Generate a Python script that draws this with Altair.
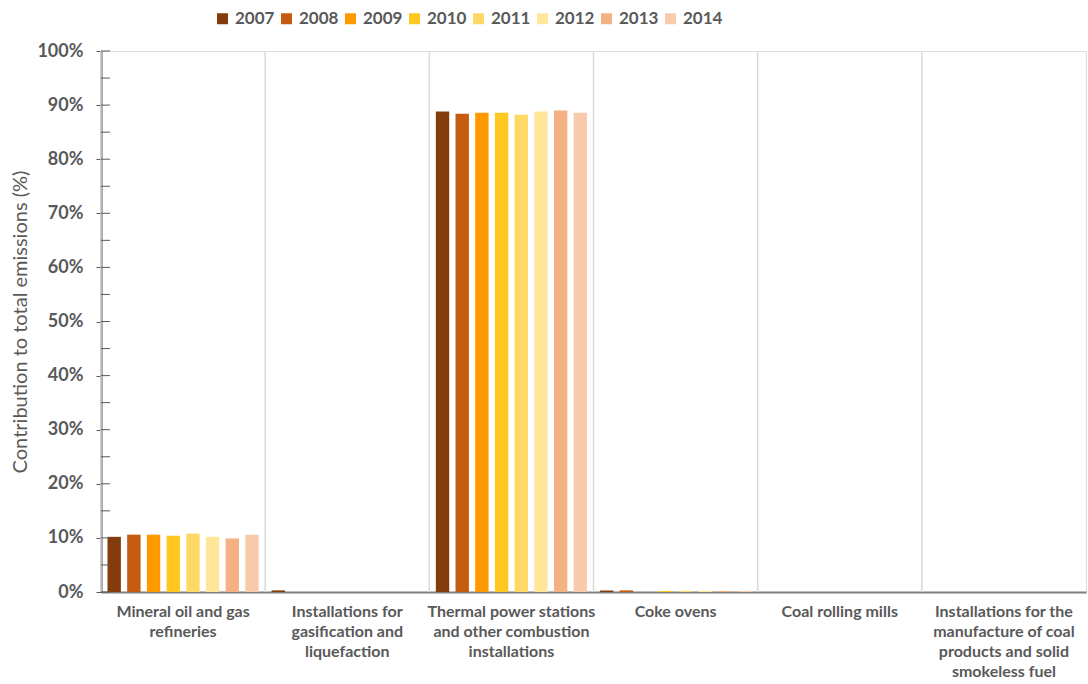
import altair as alt
import pandas as pd

categories = [
    "Mineral oil and gas refineries",
    "Installations for gasification and liquefaction",
    "Thermal power stations and other combustion installations",
    "Coke ovens",
    "Coal rolling mills",
    "Installations for the manufacture of coal products and solid smokeless fuel",
]
label_lines = [
    ["Mineral oil and gas", "refineries"],
    ["Installations for", "gasification and", "liquefaction"],
    ["Thermal power stations", "and other combustion", "installations"],
    ["Coke ovens"],
    ["Coal rolling mills"],
    ["Installations for the", "manufacture of coal", "products and solid", "smokeless fuel"],
]
years = ["2007", "2008", "2009", "2010", "2011", "2012", "2013", "2014"]
colors = ["#843C0C", "#C55A11", "#FF9900", "#FFC820", "#FFD966", "#FFE699", "#F4B183", "#F8CBAD"]

# contribution (%) per year, in category order
v2007 = [10.2, 0.3, 88.8, 0.3, 0.0, 0.0]
v2008 = [10.6, 0.0, 88.4, 0.3, 0.0, 0.0]
v2009 = [10.6, 0.0, 88.6, 0.0, 0.0, 0.0]
v2010 = [10.4, 0.0, 88.6, 0.2, 0.0, 0.0]
v2011 = [10.8, 0.0, 88.2, 0.2, 0.0, 0.0]
v2012 = [10.2, 0.0, 88.8, 0.2, 0.0, 0.0]
v2013 = [9.9, 0.0, 89.0, 0.2, 0.0, 0.0]
v2014 = [10.6, 0.0, 88.6, 0.2, 0.0, 0.0]
series = [v2007, v2008, v2009, v2010, v2011, v2012, v2013, v2014]

y_ticks = list(range(0, 101, 10))
y_minor = list(range(0, 101, 5))

rows = []
for yr, vals in zip(years, series):
    for cat, v in zip(categories, vals):
        rows.append({"category": cat, "year": yr, "value": v})
df = pd.DataFrame(rows)
cat_df = pd.DataFrame({"category": categories})
minor_df = pd.DataFrame({"v": y_minor})

expr = "''"
for cat, lines in reversed(list(zip(categories, label_lines))):
    arr = "[" + ",".join("'" + l + "'" for l in lines) + "]"
    expr = f"datum.value == '{cat}' ? {arr} : ({expr})"

FONT = "Lato"
GREY = "#595959"

x_enc = alt.X(
    "category:N",
    sort=categories,
    scale=alt.Scale(paddingInner=0, paddingOuter=0),
    axis=alt.Axis(
        title=None,
        labelAngle=0,
        labelAlign="center",
        labelExpr=expr,
        ticks=False,
        labelPadding=11,
        labelFontSize=16,
        labelFontWeight="bold",
        labelColor=GREY,
        labelLineHeight=20,
        labelBaseline="top",
        domainColor="#7f7f7f",
        domainWidth=2,
        labelFont=FONT,
    ),
)
y_scale = alt.Scale(domain=[0, 100], nice=False)

bars = alt.Chart(df).mark_bar().encode(
    x=x_enc,
    xOffset=alt.XOffset("year:N", sort=years, scale=alt.Scale(paddingInner=0.32, paddingOuter=0.33)),
    y=alt.Y(
        "value:Q",
        scale=y_scale,
        axis=alt.Axis(
            values=y_ticks,
            labelExpr="datum.value + '%'",
            title="Contribution to total emissions (%)",
            grid=False,
            tickSize=5,
            tickColor=GREY,
            domainColor=GREY,
            domainWidth=2,
            labelPadding=13,
            labelFontSize=18,
            labelFontWeight="bold",
            labelColor=GREY,
            titleFontSize=20,
            titleFontWeight="normal",
            titleColor=GREY,
            titlePadding=6,
            labelFont=FONT,
            titleFont=FONT,
        ),
    ),
    color=alt.Color(
        "year:N",
        sort=years,
        scale=alt.Scale(domain=years, range=colors),
        legend=alt.Legend(
            title=None,
            orient="none",
            legendX=113,
            legendY=-41,
            direction="horizontal",
            symbolType="square",
            symbolSize=121,
            symbolStrokeWidth=0,
            labelFontSize=17,
            labelFontWeight="bold",
            labelColor=GREY,
            labelFont=FONT,
            labelOffset=4,
            columnPadding=3,
        ),
    ),
)

grid = alt.Chart(cat_df).mark_rule(color="#d9d9d9", strokeWidth=1.5).encode(
    x=alt.X("category:N", sort=categories, bandPosition=0)
)

minor = alt.Chart(minor_df).mark_rule(color=GREY, strokeWidth=1).encode(
    y=alt.Y("v:Q", scale=y_scale),
    x=alt.value(0),
    x2=alt.value(9),
)

chart = (
    alt.layer(grid, bars, minor)
    .properties(width=985, height=541, padding={"left": 10, "top": 10, "right": 2, "bottom": 0})
    .configure_view(stroke="black", strokeWidth=1.2)
    .configure(font=FONT)
)

chart.save("out.html", embed_options={"renderer": "svg", "actions": False})
